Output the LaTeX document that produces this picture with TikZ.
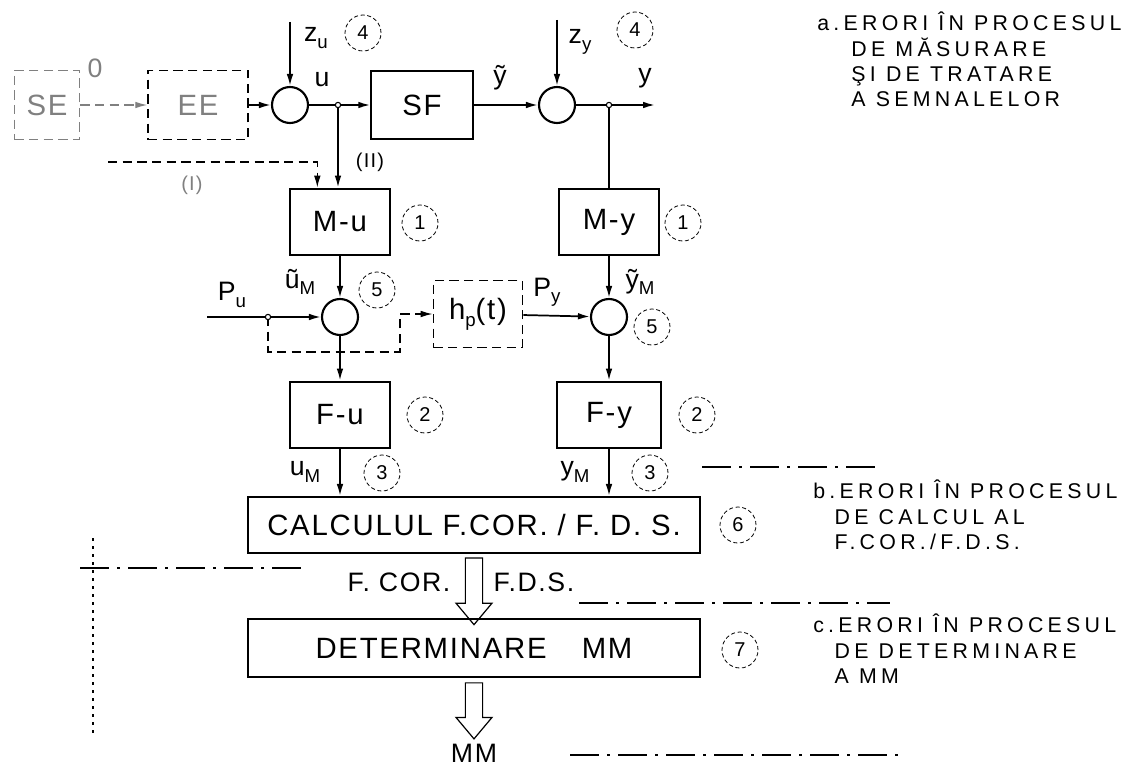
\documentclass[tikz,border=0pt]{standalone}
\usepackage{fontspec}
\setmainfont{Liberation Sans}[LetterSpace=6]
\newfontfamily\notefont{Liberation Sans}[LetterSpace=20]
\usetikzlibrary{arrows.meta,positioning,shapes.arrows,calc}

\newcommand\blkfont{\fontsize{22}{24}\selectfont}
\newcommand\lblfont{\fontsize{20}{22}\selectfont}
\newcommand\numfont{\fontsize{15}{15}\selectfont}
\newcommand\sub[1]{\raisebox{-0.45ex}{\fontsize{14}{14}\selectfont #1}}

\tikzset{
  blk/.style={rectangle, draw, line width=1.6pt, minimum width=#1,
    minimum height=50pt, font=\blkfont, inner sep=2pt},
  blk/.default=75pt,
  dblk/.style={blk=#1, dash pattern=on 7pt off 4pt, line width=1.1pt},
  sumc/.style={circle, draw, line width=1.6pt, minimum size=27pt, inner sep=0pt},
  brpt/.style={circle, draw, line width=0.8pt, fill=white, minimum size=4pt, inner sep=0pt},
  numc/.style={circle, draw, densely dashed, line width=0.6pt, minimum size=27pt,
    inner sep=0pt, font=\numfont},
  sig/.style={line width=1.3pt, -{Latex[length=9pt,width=5pt]}},
  dsig/.style={sig, dash pattern=on 7pt off 4pt, line width=1pt},
  lbl/.style={font=\lblfont, inner sep=1pt},
  hollow/.style={single arrow, draw, line width=0.9pt, shape border rotate=270,
    minimum width=27pt, single arrow head extend=7pt, single arrow tip angle=80,
    minimum height=#1, inner sep=6pt},
  sep/.style={line width=1.1pt, dash pattern=on 22pt off 6pt on 2pt off 6pt},
  note/.style={font=\notefont\fontsize{16}{19}\selectfont, align=left,
    anchor=north west, inner sep=0pt},
}

\begin{document}
\begin{tikzpicture}[x=0.75pt,y=-0.75pt]
  \useasboundingbox (0,0) rectangle (1143,767);

  % process
  \node[dblk=49pt, draw=gray, text=gray, minimum height=52pt] (se) at (47,105) {SE};
  \node[dblk=75pt, minimum height=52pt, text=gray] (ee) at (198,105) {EE};
  \node[lbl, gray] (zero) at (95,68) {0};
  \node[sumc] (sumu) at (290,105) {};
  \node[blk=76pt, minimum height=51pt] (sf) at (422,105) {SF};
  \node[sumc] (sumy) at (557,105) {};
  \coordinate (bu) at (338,105);
  \coordinate (by) at (609,105);
  \coordinate (zu) at (290,22);
  \coordinate (zy) at (557,20);
  \coordinate (yout) at (655,105);

  % measurement chain
  \node[blk] (mu) at (340,222) {M-u};
  \node[blk] (my) at (609,222) {M-y};
  \node[sumc] (smu) at (340,317) {};
  \node[sumc] (smy) at (609,317) {};
  \node[dblk=67pt] (hp) at (478,314) {h\sub{p}(t)};
  \coordinate (bp) at (268,317);
  \coordinate (pu) at (207,317);
  \coordinate (hk) at (400,352);
  \coordinate (ist) at (108,162);

  % filters and processing
  \node[blk] (fu) at (340,415) {F-u};
  \node[blk=78pt] (fy) at (609,415) {F-y};
  \node[blk=339pt, minimum height=42pt] (calc) at (474,525) {CALCULUL F.COR. / F. D. S.};
  \node[blk=339pt, minimum height=43pt] (det) at (474,648) {DETERMINARE\hspace{1.2em}MM};
  \node[hollow=50pt] (fcor) at ($(calc.south)!0.5!(det.north)$) {};
  \node[hollow=42pt] (mmarr) at ([yshift=-21pt]det.south) {};
  \node[lbl] (mm) at (474,753) {MM};

  % signal labels
  \node[lbl] (lu) at (322,80) {u};
  \node[lbl] (lzu) at (316,38) {z\sub{u}};
  \node[lbl] (lyt) at (500,78) {\~y};
  \node[lbl] (lzy) at (580,42) {z\sub{y}};
  \node[lbl] (ly) at (645,78) {y};
  \node[lbl, font=\numfont] (lii) at (370,162) {(II)};
  \node[lbl, font=\numfont, gray] (li) at (192,185) {(I)};
  \node[lbl] (lum) at (300,282) {\~u\sub{M}};
  \node[lbl] (lpu) at (232,295) {P\sub{u}};
  \node[lbl] (lpy) at (547,292) {P\sub{y}};
  \node[lbl] (lym) at (640,282) {\~y\sub{M}};
  \node[lbl] (luM) at (305,472) {u\sub{M}};
  \node[lbl] (lyM) at (575,472) {y\sub{M}};
  \node[lbl, anchor=east] (lfcor) at (452,582) {F. COR.};
  \node[lbl, anchor=west] (lfds) at (492,582) {F.D.S.};

  % numbered marks
  \node[numc] (n4a) at (363,33) {4};
  \node[numc] (n4b) at (635,30) {4};
  \node[numc] (n1a) at (420,223) {1};
  \node[numc] (n1b) at (683,223) {1};
  \node[numc] (n5a) at (377,290) {5};
  \node[numc] (n5b) at (652,327) {5};
  \node[numc] (n2a) at (425,415) {2};
  \node[numc] (n2b) at (697,415) {2};
  \node[numc] (n3a) at (382,473) {3};
  \node[numc] (n3b) at (650,473) {3};
  \node[numc] (n6) at (738,525) {6};
  \node[numc] (n7) at (740,650) {7};

  % connections
  \draw[dsig, gray] (se) -- (ee);
  \draw[sig] (ee) -- (sumu);
  \draw[sig] (zu) -- (sumu);
  \draw[sig] (sumu) -- (sf);
  \draw[sig] (sf) -- (sumy);
  \draw[sig] (zy) -- (sumy);
  \draw[sig] (sumy) -- (yout);
  \draw[sig] (bu) -- (bu |- mu.north);
  \draw[line width=1.3pt] (by) -- (by |- my.north);
  \draw[dsig] (ist) -| ([xshift=-17pt]mu.north);
  \draw[sig] (mu) -- (smu);
  \draw[sig] (pu) -- (smu);
  \draw[dsig] (bp) |- (hk) |- (hp.west);
  \draw[sig] (hp) -- (smy);
  \draw[sig] (my) -- (smy);
  \draw[sig] (smu) -- (fu);
  \draw[sig] (smy) -- (fy);
  \draw[sig] (fu) -- (fu.south |- calc.north);
  \draw[sig] (fy) -- (fy.south |- calc.north);
  \node[brpt] (bud) at (bu) {};
  \node[brpt] (byd) at (by) {};
  \node[brpt] (bpd) at (bp) {};

  % separators of the error classes
  \draw[sep] (80,568) -- (307,568);
  \draw[line width=1.1pt, dash pattern=on 2pt off 4pt] (93,538) -- (93,735);
  \draw[sep] (702,467) -- (880,467);
  \draw[sep] (579,603) -- (890,603);
  \draw[sep] (570,755) -- (900,755);

  \node[note] (nota) at (817,12) {a.ERORI ÎN PROCESUL\\
    \hspace*{1.6em}DE MĂSURARE\\\hspace*{1.6em}ŞI DE TRATARE\\\hspace*{1.6em}A SEMNALELOR};
  \node[note] (notb) at (813,480) {b.ERORI ÎN PROCESUL\\
    \hspace*{1em}DE CALCUL AL\\\hspace*{1em}F.COR./F.D.S.};
  \node[note] (notc) at (813,614) {c.ERORI ÎN PROCESUL\\
    \hspace*{1em}DE DETERMINARE\\\hspace*{1em}A MM};
\end{tikzpicture}
\end{document}
